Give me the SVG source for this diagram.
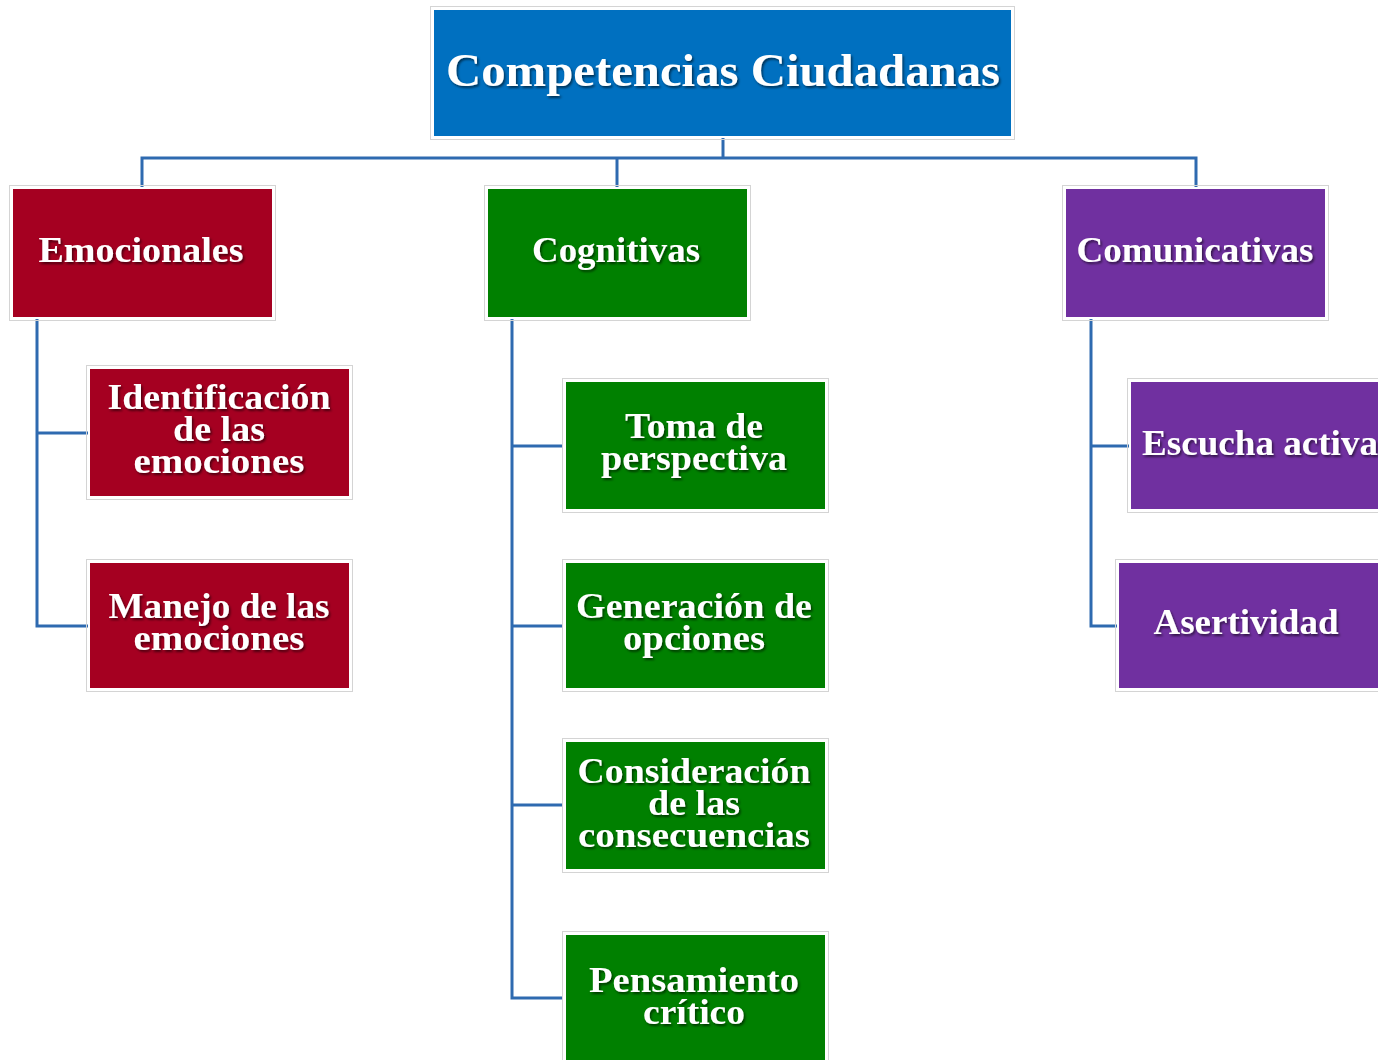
<svg xmlns="http://www.w3.org/2000/svg" width="1378" height="1060" viewBox="0 0 1378 1060">
<defs>
<filter id="sh" x="-10%" y="-30%" width="120%" height="160%">
<feDropShadow dx="1.5" dy="2" stdDeviation="1.2" flood-color="#000" flood-opacity="0.55"/>
</filter>
<style>
.box{stroke:#fff;stroke-width:2}
.edge{fill:none;stroke:#d4d4d4;stroke-width:1}
.red{fill:#A50021}
.green{fill:#008000}
.purple{fill:#7030A0}
.blue{fill:#0070C0}
.t{font-family:"Liberation Serif","DejaVu Serif",serif;font-weight:bold;fill:#fff;text-anchor:middle;font-size:35px;filter:url(#sh)}
.title{font-size:46px}
.conn{fill:none;stroke:#2E6AB0;stroke-width:3}
</style>
</defs>
<rect width="1378" height="1060" fill="#fff"/>
<g id="connectors">
<polyline class="conn" points="723,137 723,158"/>
<polyline class="conn" points="142,187 142,158 1196,158 1196,187"/>
<polyline class="conn" points="617,158 617,187"/>
<polyline class="conn" points="37,318 37,626 88,626"/>
<polyline class="conn" points="37,433 88,433"/>
<polyline class="conn" points="512,318 512,998 563,998"/>
<polyline class="conn" points="512,446 563,446"/>
<polyline class="conn" points="512,626 563,626"/>
<polyline class="conn" points="512,805 563,805"/>
<polyline class="conn" points="1091,318 1091,626 1117,626"/>
<polyline class="conn" points="1091,446 1129,446"/>
</g>
<g id="n-root">
<rect class="edge" x="430.5" y="6.5" width="584" height="133"/>
<rect class="box blue" x="433" y="9" width="579" height="128"/>
<text class="t title" x="723" y="86" textLength="554" lengthAdjust="spacingAndGlyphs">Competencias Ciudadanas</text>
</g>
<g id="n-emocionales">
<rect class="edge" x="9.5" y="185.5" width="266" height="135"/>
<rect class="box red" x="12" y="188" width="261" height="130"/>
<text class="t" x="141" y="262" textLength="205" lengthAdjust="spacingAndGlyphs">Emocionales</text>
</g>
<g id="n-cognitivas">
<rect class="edge" x="484.5" y="185.5" width="266" height="135"/>
<rect class="box green" x="487" y="188" width="261" height="130"/>
<text class="t" x="616" y="262" textLength="168" lengthAdjust="spacingAndGlyphs">Cognitivas</text>
</g>
<g id="n-comunicativas">
<rect class="edge" x="1062.5" y="185.5" width="266" height="135"/>
<rect class="box purple" x="1065" y="188" width="261" height="130"/>
<text class="t" x="1195" y="262" textLength="237" lengthAdjust="spacingAndGlyphs">Comunicativas</text>
</g>
<g id="n-identificacion">
<rect class="edge" x="86.5" y="365.5" width="266" height="134"/>
<rect class="box red" x="89" y="368" width="261" height="129"/>
<text class="t" x="219" y="409" textLength="223" lengthAdjust="spacingAndGlyphs">Identificación</text>
<text class="t" x="219" y="441" textLength="92" lengthAdjust="spacingAndGlyphs">de las</text>
<text class="t" x="219" y="473" textLength="171" lengthAdjust="spacingAndGlyphs">emociones</text>
</g>
<g id="n-manejo">
<rect class="edge" x="86.5" y="559.5" width="266" height="132"/>
<rect class="box red" x="89" y="562" width="261" height="127"/>
<text class="t" x="219" y="618" textLength="221" lengthAdjust="spacingAndGlyphs">Manejo de las</text>
<text class="t" x="219" y="650" textLength="171" lengthAdjust="spacingAndGlyphs">emociones</text>
</g>
<g id="n-toma">
<rect class="edge" x="562.5" y="378.5" width="266" height="134"/>
<rect class="box green" x="565" y="381" width="261" height="129"/>
<text class="t" x="694" y="438" textLength="138" lengthAdjust="spacingAndGlyphs">Toma de</text>
<text class="t" x="694" y="470" textLength="186" lengthAdjust="spacingAndGlyphs">perspectiva</text>
</g>
<g id="n-generacion">
<rect class="edge" x="562.5" y="559.5" width="266" height="132"/>
<rect class="box green" x="565" y="562" width="261" height="127"/>
<text class="t" x="694" y="618" textLength="236" lengthAdjust="spacingAndGlyphs">Generación de</text>
<text class="t" x="694" y="650" textLength="142" lengthAdjust="spacingAndGlyphs">opciones</text>
</g>
<g id="n-consideracion">
<rect class="edge" x="562.5" y="738.5" width="266" height="134"/>
<rect class="box green" x="565" y="741" width="261" height="129"/>
<text class="t" x="694" y="783" textLength="233" lengthAdjust="spacingAndGlyphs">Consideración</text>
<text class="t" x="694" y="815" textLength="92" lengthAdjust="spacingAndGlyphs">de las</text>
<text class="t" x="694" y="847" textLength="232" lengthAdjust="spacingAndGlyphs">consecuencias</text>
</g>
<g id="n-pensamiento">
<rect class="edge" x="562.5" y="931.5" width="266" height="134"/>
<rect class="box green" x="565" y="934" width="261" height="129"/>
<text class="t" x="694" y="992" textLength="210" lengthAdjust="spacingAndGlyphs">Pensamiento</text>
<text class="t" x="694" y="1024" textLength="102" lengthAdjust="spacingAndGlyphs">crítico</text>
</g>
<g id="n-escucha">
<rect class="edge" x="1127.5" y="378.5" width="266" height="134"/>
<rect class="box purple" x="1130" y="381" width="261" height="129"/>
<text class="t" x="1260" y="455" textLength="236" lengthAdjust="spacingAndGlyphs">Escucha activa</text>
</g>
<g id="n-asertividad">
<rect class="edge" x="1115.5" y="559.5" width="266" height="132"/>
<rect class="box purple" x="1118" y="562" width="261" height="127"/>
<text class="t" x="1246" y="634" textLength="185" lengthAdjust="spacingAndGlyphs">Asertividad</text>
</g>
</svg>
